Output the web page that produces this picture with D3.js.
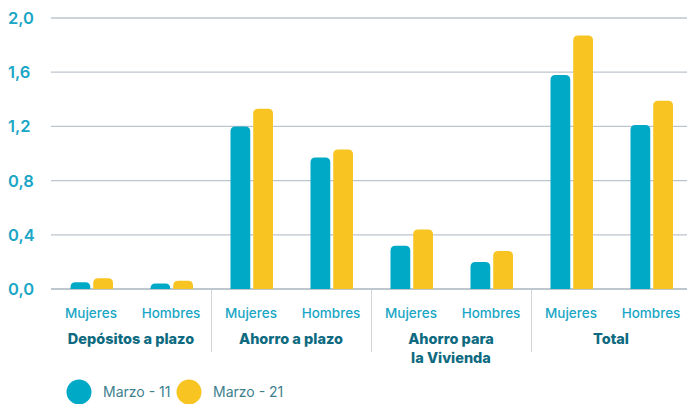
<!DOCTYPE html>
<html>
<head>
<meta charset="utf-8">
<script src="https://cdn.jsdelivr.net/npm/d3@7.9.0/dist/d3.min.js"></script>
<style>
  html, body { margin: 0; padding: 0; background: #fff; }
  svg { display: block; font-family: Inter, "Open Sans", sans-serif; }
</style>
</head>
<body>
<svg id="chart" width="687" height="404"></svg>
<script>
const categories = ["Depósitos a plazo", "Ahorro a plazo", "Ahorro para la Vivienda", "Total"];
const categoryLines = [["Depósitos a plazo"], ["Ahorro a plazo"], ["Ahorro para", "la Vivienda"], ["Total"]];
const genders = ["Mujeres", "Hombres"];
const seriesNames = ["Marzo - 11", "Marzo - 21"];
// values in category order, Mujeres then Hombres
const marzo11 = [0.05, 0.04, 1.20, 0.97, 0.32, 0.20, 1.58, 1.21];
const marzo21 = [0.08, 0.06, 1.33, 1.03, 0.44, 0.28, 1.87, 1.39];
const yTicks = [0, 0.4, 0.8, 1.2, 1.6, 2.0];
const colors = ["#00a9c6", "#f8c421"];

const svg = d3.select("#chart");

const y = d3.scaleLinear().domain([0, 2]).range([289, 18]);
const x0 = d3.scaleBand().domain(categories).range([51, 691]);
const x1 = d3.scaleBand().domain(genders).range([0, x0.bandwidth()]);
const x2 = d3.scaleBand().domain(seriesNames).range([19.5, 62]).paddingInner(0.13);

// grid
svg.append("g")
  .selectAll("line")
  .data(yTicks)
  .join("line")
  .attr("x1", 51).attr("x2", 687)
  .attr("y1", d => y(d)).attr("y2", d => y(d))
  .attr("stroke", d => d === 0 ? "#a9b4be" : "#bcc5cd")
  .attr("stroke-width", 1.3);

svg.append("g")
  .selectAll("text")
  .data(yTicks)
  .join("text")
  .attr("x", 8)
  .attr("y", d => y(d) + 6)
  .attr("fill", "#1aa6c6")
  .attr("font-size", 16.5)
  .attr("font-weight", 600)
  .text(d => d3.format(".1f")(d).replace(".", ","));

// bars
const rows = [];
categories.forEach((c, i) => {
  genders.forEach((g, j) => {
    const k = i * 2 + j;
    rows.push({ c, g, s: seriesNames[0], v: marzo11[k], color: colors[0] });
    rows.push({ c, g, s: seriesNames[1], v: marzo21[k], color: colors[1] });
  });
});

function topRounded(x, yTop, w, yBase, r) {
  const h = yBase - yTop;
  r = Math.min(r, h, w / 2);
  return `M${x},${yBase}V${yTop + r}Q${x},${yTop} ${x + r},${yTop}H${x + w - r}Q${x + w},${yTop} ${x + w},${yTop + r}V${yBase}Z`;
}

svg.append("g")
  .selectAll("path")
  .data(rows)
  .join("path")
  .attr("fill", d => d.color)
  .attr("d", d => topRounded(x0(d.c) + x1(d.g) + x2(d.s), y(d.v), x2.bandwidth(), y(0), 5));

// separators
svg.append("g")
  .selectAll("line")
  .data(categories.slice(1))
  .join("line")
  .attr("x1", d => x0(d) + 0.5).attr("x2", d => x0(d) + 0.5)
  .attr("y1", 290).attr("y2", 352)
  .attr("stroke", "#cfd4d8")
  .attr("stroke-width", 1);

// gender labels
const gLabels = [];
categories.forEach(c => genders.forEach(g => gLabels.push({ c, g })));
svg.append("g")
  .selectAll("text")
  .data(gLabels)
  .join("text")
  .attr("x", d => x0(d.c) + x1(d.g) + x1.bandwidth() / 2)
  .attr("y", 318)
  .attr("text-anchor", "middle")
  .attr("fill", "#1aa6c6")
  .attr("font-size", 13.5)
  .attr("font-weight", 500)
  .text(d => d.g);

// category labels
const cat = svg.append("g")
  .selectAll("text")
  .data(categories)
  .join("text")
  .attr("x", d => x0(d) + x0.bandwidth() / 2)
  .attr("y", 344)
  .attr("text-anchor", "middle")
  .attr("fill", "#0e6a80")
  .attr("font-size", 14.5)
  .attr("font-weight", 800);
cat.each(function (d, i) {
  d3.select(this).selectAll("tspan")
    .data(categoryLines[i])
    .join("tspan")
    .attr("x", x0(d) + x0.bandwidth() / 2)
    .attr("dy", (_, k) => k === 0 ? 0 : 19)
    .text(t => t);
});

// legend
const legendX = [79, 189];
const legend = svg.append("g")
  .selectAll("g")
  .data(seriesNames)
  .join("g")
  .attr("transform", (_, i) => `translate(${legendX[i]},392)`);
legend.append("circle").attr("r", 12.5).attr("fill", (_, i) => colors[i]);
legend.append("text")
  .attr("x", 24)
  .attr("y", 5)
  .attr("fill", "#3e7f8e")
  .attr("font-size", 14)
  .text(d => d);
</script>
</body>
</html>
